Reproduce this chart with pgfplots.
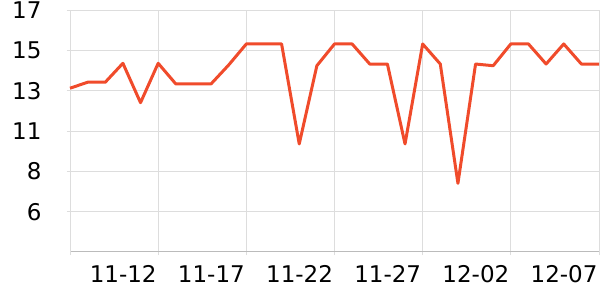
\documentclass[border=0pt]{standalone}
\usepackage{pgfplots}
\pgfplotsset{compat=1.18}
\usepackage{fontspec}
\setmainfont{DejaVu Sans}
\definecolor{lineC}{HTML}{F04B2B}
\definecolor{gridC}{HTML}{DDDDDD}
\definecolor{axisC}{HTML}{BBBBBB}
\begin{document}
\begin{tikzpicture}[x=1pt,y=1pt]
\useasboundingbox (0,0) rectangle (600,300);
\begin{axis}[
  at={(70pt,48pt)}, anchor=south west,
  scale only axis, width=529pt, height=242pt,
  xmin=0, xmax=30, ymin=4.1, ymax=17,
  axis x line=bottom, axis y line=left,
  axis line style={-, draw=axisC, line width=1pt},
  y axis line style={draw=gridC},
  xtick={0,5,10,15,20,25,30},
  xticklabels={,11-12,11-17,11-22,11-27,12-02,12-07},
  ytick={6.25,8.4,10.55,12.7,14.85,17},
  yticklabels={6,8,11,13,15,17},
  grid=major,
  major grid style={draw=gridC, line width=0.8pt},
  tick align=outside, major tick length=3pt,
  tick style={draw=gridC, line width=0.8pt},
  xticklabel style={anchor=north east, xshift=2pt, yshift=-7pt},
  yticklabel style={anchor=east, xshift=-22pt},
  ticklabel style={font=\fontsize{23}{27}\selectfont},
  /pgf/number format/assume math mode=true,
  clip=false,
]
\addplot[lineC, line width=3pt, line join=round] coordinates {
(0,12.83) (1,13.15) (2,13.15) (3,14.16) (4,12.06) (5,14.16) (6,13.06) (7,13.06)
(8,13.06) (9,14.07) (10,15.19) (11,15.19) (12,15.19) (13,9.86) (14,14.03) (15,15.19)
(16,15.19) (17,14.12) (18,14.12) (19,9.86) (20,15.19) (21,14.12) (22,7.76) (23,14.12)
(24,14.03) (25,15.19) (26,15.19) (27,14.12) (28,15.19) (29,14.12) (30,14.12)
};
\end{axis}
\end{tikzpicture}
\end{document}
